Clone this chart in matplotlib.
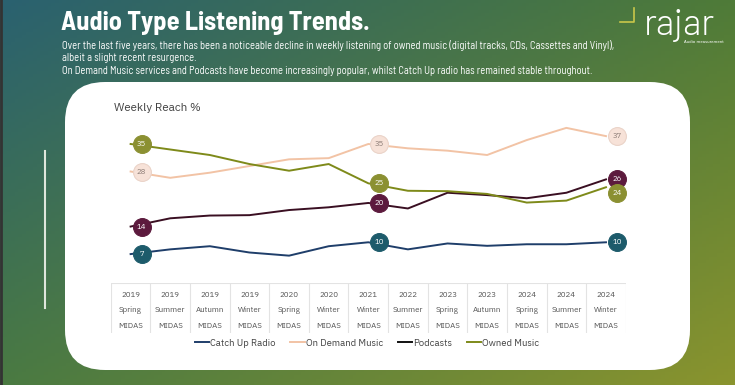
import matplotlib.pyplot as plt
import numpy as np
from matplotlib.patches import FancyBboxPatch
from matplotlib.lines import Line2D
import matplotlib.transforms as mtransforms

# data
years = ["2019", "2019", "2019", "2019", "2020", "2020", "2021",
         "2022", "2023", "2023", "2024", "2024", "2024"]
seasons = ["Spring", "Summer", "Autumn", "Winter", "Spring", "Winter", "Winter",
           "Summer", "Spring", "Autumn", "Spring", "Summer", "Winter"]
catch_up = [7, 8.2, 9, 7.4, 6.6, 9, 10, 8.2, 9.7, 9.1, 9.5, 9.5, 10]
on_demand = [28, 26.4, 27.7, 29.4, 31.1, 31.4, 35, 33.9, 33.3, 32.2, 36, 39.1, 37]
podcasts = [14, 16.1, 16.8, 16.9, 18.2, 18.9, 20, 18.6, 22.6, 22, 21.2, 22.6, 26]
owned = [35, 33.6, 32.2, 29.9, 28.2, 29.9, 25, 23.1, 23, 22.3, 20.1, 20.6, 24]
label_idx = [0, 6, 12]

W, H = 735, 385
HEAD = ["Barlow Semi Condensed", "DejaVu Sans"]
BODY = ["IBM Plex Sans", "DejaVu Sans"]
fig = plt.figure(figsize=(W / 100, H / 100), dpi=100)

def fx(px):
    return px / W

def fy(py):
    return 1 - py / H

# background gradient
bg = fig.add_axes([0, 0, 1, 1])
bg.set_axis_off()
tl = np.array([0x2a, 0x61, 0x70]) / 255
tr = np.array([0x4f, 0x7b, 0x38]) / 255
bl = np.array([0x4a, 0x7a, 0x42]) / 255
br = np.array([0x8a, 0x94, 0x2e]) / 255
u = np.linspace(0, 1, 200)[None, :, None]
v = np.linspace(0, 1, 120)[:, None, None]
grad = (1 - v) * ((1 - u) * tl + u * tr) + v * ((1 - u) * bl + u * br)
bg.imshow(grad, extent=[0, 1, 0, 1], aspect="auto", transform=bg.transAxes)
bg.set_xlim(0, 1)
bg.set_ylim(0, 1)
bg.add_line(Line2D([0.001, 0.001], [0, 1], color="#333333", lw=2))

# white panel
panel = FancyBboxPatch((65, H - 370), 625, 288,
                       boxstyle="round,pad=0,rounding_size=40",
                       transform=mtransforms.IdentityTransform(),
                       facecolor="white", edgecolor="none", zorder=1)
fig.patches.append(panel)
fig.add_artist(Line2D([fx(45), fx(45)], [fy(151), fy(308)], color="#dfe6dc", lw=1.5))

# titles
fig.text(fx(61), fy(23), "Audio Type Listening Trends.", color="white",
         fontsize=19, fontweight="bold", family=HEAD, va="center", ha="left")
sub = ("Over the last five years, there has been a noticeable decline in weekly listening of owned music "
       "(digital tracks, CDs, Cassettes and Vinyl),\nalbeit a slight recent resurgence.\n"
       "On Demand Music services and Podcasts have become increasingly popular, whilst Catch Up radio has "
       "remained stable throughout.")
fig.text(fx(62), fy(40), sub, color="white", fontsize=7.6, va="top", ha="left",
         family=HEAD, linespacing=1.3)

# logo
fig.text(fx(644), fy(25), "rajar", color="white", fontsize=26, va="center", ha="left",
         family=["Barlow", "Barlow Semi Condensed", "DejaVu Sans"], fontweight=300)
fig.add_artist(Line2D([fx(620), fx(634), fx(634)], [fy(22), fy(22), fy(8)], color="#c9c74a", lw=1.2))
fig.text(fx(724), fy(42), "Audio measurement", color="white", fontsize=2.8, ha="right", va="center")

# chart
ax = fig.add_axes([fx(110.8), fy(281.6), 515 / W, (281.6 - 120.4) / H], zorder=3)
ax.set_xlim(-0.5, 12.5)
ax.set_ylim(0, 41)
ax.set_axis_off()
ax.patch.set_alpha(0)
x = np.arange(len(years))

series = [
    ("Catch Up Radio", catch_up, "#1f3e6a", "#1d5b6b", "white", "#1d5b6b"),
    ("On Demand Music", on_demand, "#f2c3a5", "#f7e2d8", "#8a7a74", "#ead3c8"),
    ("Podcasts", podcasts, "#3a0f22", "#5c1a3d", "white", "#5c1a3d"),
    ("Owned Music", owned, "#7e8a1a", "#8b9032", "white", "#8b9032"),
]
for name, vals, lc, cc, tc, ec in series:
    ax.plot(x, vals, color=lc, lw=1.4, zorder=2)
for name, vals, lc, cc, tc, ec in series:
    for i in label_idx:
        dy = -6 if (name == "Owned Music" and i == 12) else 0
        tr_off = mtransforms.offset_copy(ax.transData, fig=fig, x=11, y=dy, units="dots")
        ax.scatter([x[i]], [vals[i]], s=165, color=cc, edgecolor=ec, lw=0.8,
                   transform=tr_off, zorder=4)
        ax.text(x[i], vals[i], f"{vals[i]:.0f}", transform=tr_off, color=tc,
                fontsize=5.6, ha="center", va="center", zorder=5, fontweight="bold", family=BODY)

fig.text(fx(114), fy(108), "Weekly Reach %", color="#444444", fontsize=8.4, va="center", ha="left",
         family=BODY)

# category table
tx = fig.add_axes([fx(110.8), fy(333), 515 / W, (333 - 283) / H], zorder=3)
tx.set_xlim(-0.5, 12.5)
tx.set_ylim(0, 1)
tx.set_axis_off()
tx.patch.set_alpha(0)
tx.plot([-0.5, 12.5], [1, 1], color="#e3e3e3", lw=0.8)
for b in np.arange(-0.5, 13, 1):
    tx.plot([b, b], [0, 1], color="#e3e3e3", lw=0.8)
for i in x:
    for yy, t in [(0.76, years[i]), (0.47, seasons[i]), (0.15, "MIDAS")]:
        tx.text(i, yy, t, ha="center", va="center", fontsize=5.8, color="#555555", family=BODY)

handles = [Line2D([], [], color=c, lw=1.4) for c in ["#1f3e6a", "#f2c3a5", "#111111", "#7e8a1a"]]
leg = fig.legend(handles, [s[0] for s in series], loc="center", bbox_to_anchor=(fx(367), fy(343)),
                 ncol=4, frameon=False, handlelength=1.5, handletextpad=0.1,
                 columnspacing=1.6, labelcolor="#444444", prop={"family": BODY, "size": 6.8})

fig.savefig("out.png", dpi=100)
